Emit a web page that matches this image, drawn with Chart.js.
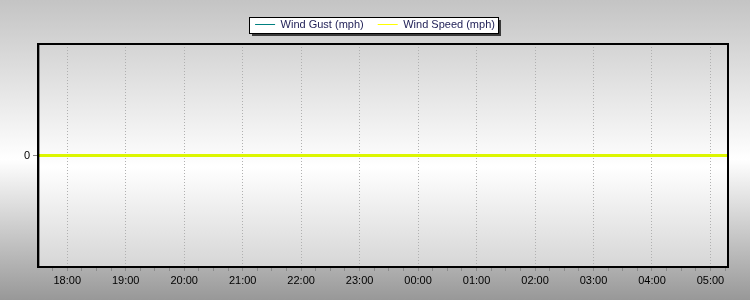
<!DOCTYPE html>
<html>
<head>
<meta charset="utf-8">
<script src="https://cdn.jsdelivr.net/npm/chart.js@4"></script>
<style>
  body { margin: 0; background: #fff; }
  canvas { display: block; }
</style>
</head>
<body>
<canvas id="windChart" width="750" height="300"></canvas>
<script>
// hours since midnight of the first day (24 = 00:00 next day)
const times = [17.5, 18, 19, 20, 21, 22, 23, 24, 25, 26, 27, 28, 29, 29.3];
const windGust = [0, 0, 0, 0, 0, 0, 0, 0, 0, 0, 0, 0, 0, 0];
const windSpeed = [0, 0, 0, 0, 0, 0, 0, 0, 0, 0, 0, 0, 0, 0];

const hourValues = [18, 19, 20, 21, 22, 23, 24, 25, 26, 27, 28, 29];
const hourLabels = ['18:00', '19:00', '20:00', '21:00', '22:00', '23:00',
                    '00:00', '01:00', '02:00', '03:00', '04:00', '05:00'];

// background gradients, legend box and the plot frame
const backdrop = {
    id: 'backdrop',
    beforeDraw(chart) {
        const { ctx, width, height, chartArea: a } = chart;
        ctx.save();
        let g = ctx.createLinearGradient(0, 0, 0, height);
        g.addColorStop(0, '#c4c4c4');
        g.addColorStop(0.53, '#ffffff');
        g.addColorStop(1, '#989898');
        ctx.fillStyle = g;
        ctx.fillRect(0, 0, width, height);

        g = ctx.createLinearGradient(0, a.top, 0, a.bottom);
        g.addColorStop(0, '#d4d4d4');
        g.addColorStop(0.55, '#ffffff');
        g.addColorStop(1, '#d6d6d6');
        ctx.fillStyle = g;
        ctx.fillRect(a.left, a.top, a.right - a.left, a.bottom - a.top);

        // legend box with a drop shadow
        const boxes = chart.legend.legendHitBoxes;
        if (boxes && boxes.length) {
            const x0 = Math.round(Math.min(...boxes.map(b => b.left)) - 6);
            const x1 = Math.round(Math.max(...boxes.map(b => b.left + b.width)) + 3);
            const y0 = Math.round(boxes[0].top - 2);
            const y1 = Math.round(boxes[0].top + boxes[0].height + 3);
            ctx.fillStyle = '#3a3a3a';
            ctx.fillRect(x0 + 3, y0 + 3, x1 - x0, y1 - y0);
            ctx.fillStyle = '#ffffff';
            ctx.fillRect(x0, y0, x1 - x0, y1 - y0);
            ctx.strokeStyle = '#000';
            ctx.lineWidth = 1;
            ctx.strokeRect(x0 + 0.5, y0 + 0.5, x1 - x0, y1 - y0);
        }
        ctx.restore();
    },
    afterDatasetsDraw(chart) {
        const { ctx, chartArea: a } = chart;
        ctx.save();
        ctx.strokeStyle = '#000';
        ctx.lineWidth = 2;
        ctx.strokeRect(a.left, a.top, a.right - a.left, a.bottom - a.top);
        ctx.strokeStyle = 'rgba(0,0,0,0.35)';
        ctx.lineWidth = 1;
        ctx.beginPath();
        ctx.moveTo(a.left + 1.5, a.top);
        ctx.lineTo(a.left + 1.5, a.bottom);
        ctx.stroke();
        ctx.restore();
    }
};

const ctx = document.getElementById('windChart').getContext('2d');

new Chart(ctx, {
    type: 'line',
    data: {
        datasets: [
            {
                label: 'Wind Gust (mph)',
                data: times.map((t, i) => ({ x: t, y: windGust[i] })),
                borderColor: '#008080',
                borderWidth: 1,
                pointRadius: 0,
                order: 2
            },
            {
                label: 'Wind Speed (mph)',
                data: times.map((t, i) => ({ x: t, y: windSpeed[i] })),
                borderColor: '#dcf600',
                borderWidth: 3,
                pointRadius: 0,
                order: 1
            }
        ]
    },
    options: {
        responsive: false,
        animation: false,
        layout: { padding: { top: 5, right: 0, left: 0, bottom: 0 } },
        plugins: {
            tooltip: { enabled: false },
            legend: {
                position: 'top',
                labels: {
                    usePointStyle: true,
                    pointStyle: 'line',
                    pointStyleWidth: 20,
                    padding: 14,
                    color: '#1e1e55',
                    font: { family: 'Arial, "Liberation Sans"', size: 11 },
                    sort: (a, b) => a.datasetIndex - b.datasetIndex,
                    generateLabels(chart) {
                        return Chart.defaults.plugins.legend.labels.generateLabels(chart)
                            .map(l => Object.assign(l, {
                                lineWidth: 1,
                                strokeStyle: l.datasetIndex === 1 ? '#ffff00' : '#008080'
                            }));
                    }
                }
            }
        },
        scales: {
            x: {
                type: 'linear',
                min: 17.5,
                max: 29.3,
                afterBuildTicks(axis) {
                    const ticks = [];
                    for (let v = 17.75; v <= 29.3; v += 0.25) ticks.push({ value: v });
                    axis.ticks = ticks;
                },
                afterFit(axis) { axis.height = 33; },
                ticks: {
                    autoSkip: false,
                    maxRotation: 0,
                    padding: 3,
                    color: '#000',
                    font: { family: 'Arial, "Liberation Sans"', size: 11 },
                    callback(value) {
                        const i = hourValues.indexOf(value);
                        return i >= 0 ? hourLabels[i] : '';
                    }
                },
                grid: {
                    color: c => (c.tick && Number.isInteger(c.tick.value)) ? '#b0b0b0' : 'rgba(0,0,0,0)',
                    tickColor: '#8a8a8a',
                    tickLength: 4,
                    lineWidth: 1
                },
                border: { display: false, dash: [1, 2] }
            },
            y: {
                min: -1,
                max: 1,
                afterBuildTicks(axis) { axis.ticks = [{ value: 0 }]; },
                afterFit(axis) { axis.width = 38; },
                ticks: {
                    padding: 3,
                    color: '#000',
                    font: { family: 'Arial, "Liberation Sans"', size: 11 }
                },
                grid: {
                    drawOnChartArea: false,
                    tickColor: '#8a8a8a',
                    tickLength: 5
                },
                border: { display: false }
            },
            // empty margins: right keeps the legend centred, top sets the gap below it
            spacer: {
                type: 'linear',
                position: 'right',
                afterFit(axis) { axis.width = 22; },
                ticks: { display: false },
                grid: { display: false },
                border: { display: false }
            },
            spacerTop: {
                type: 'linear',
                axis: 'x',
                position: 'top',
                afterFit(axis) { axis.height = 4; },
                ticks: { display: false },
                grid: { display: false },
                border: { display: false }
            }
        }
    },
    plugins: [backdrop]
});
</script>
</body>
</html>
